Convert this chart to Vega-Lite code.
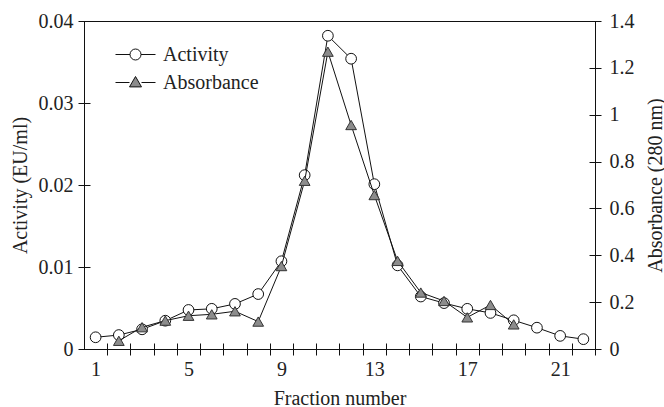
{
  "$schema": "https://vega.github.io/schema/vega-lite/v6.json",
  "width": 511,
  "height": 328,
  "autosize": {"type": "none"},
  "padding": {"left": 84, "top": 21, "right": 69, "bottom": 58},
  "background": "white",
  "config": {
    "font": "Liberation Serif",
    "view": {"stroke": "#111", "strokeWidth": 1},
    "axis": {
      "labelFont": "Liberation Serif",
      "titleFont": "Liberation Serif",
      "labelFontSize": 20,
      "titleFontSize": 20,
      "titleFontWeight": "normal",
      "labelColor": "#222",
      "titleColor": "#222",
      "tickColor": "#111",
      "grid": false,
      "domain": false,
      "offset": -6,
      "tickSize": 12
    },
    "legend": {
      "labelFont": "Liberation Serif",
      "labelFontSize": 20,
      "labelColor": "#222"
    }
  },
  "data": {
    "values": [
      {"fraction": 1, "series": "Activity", "value": 0.00143},
      {"fraction": 2, "series": "Activity", "value": 0.0017},
      {"fraction": 3, "series": "Activity", "value": 0.0024},
      {"fraction": 4, "series": "Activity", "value": 0.00345},
      {"fraction": 5, "series": "Activity", "value": 0.00476},
      {"fraction": 6, "series": "Activity", "value": 0.0049},
      {"fraction": 7, "series": "Activity", "value": 0.0055},
      {"fraction": 8, "series": "Activity", "value": 0.0067},
      {"fraction": 9, "series": "Activity", "value": 0.0107},
      {"fraction": 10, "series": "Activity", "value": 0.0212},
      {"fraction": 11, "series": "Activity", "value": 0.0382},
      {"fraction": 12, "series": "Activity", "value": 0.0354},
      {"fraction": 13, "series": "Activity", "value": 0.0201},
      {"fraction": 14, "series": "Activity", "value": 0.0102},
      {"fraction": 15, "series": "Activity", "value": 0.0064},
      {"fraction": 16, "series": "Activity", "value": 0.0056},
      {"fraction": 17, "series": "Activity", "value": 0.0049},
      {"fraction": 18, "series": "Activity", "value": 0.0044},
      {"fraction": 19, "series": "Activity", "value": 0.0035},
      {"fraction": 20, "series": "Activity", "value": 0.0026},
      {"fraction": 21, "series": "Activity", "value": 0.0016},
      {"fraction": 22, "series": "Activity", "value": 0.0012},
      {"fraction": 2, "series": "Absorbance", "value": 0.035},
      {"fraction": 3, "series": "Absorbance", "value": 0.093},
      {"fraction": 4, "series": "Absorbance", "value": 0.121},
      {"fraction": 5, "series": "Absorbance", "value": 0.142},
      {"fraction": 6, "series": "Absorbance", "value": 0.148},
      {"fraction": 7, "series": "Absorbance", "value": 0.161},
      {"fraction": 8, "series": "Absorbance", "value": 0.117},
      {"fraction": 9, "series": "Absorbance", "value": 0.354},
      {"fraction": 10, "series": "Absorbance", "value": 0.718},
      {"fraction": 11, "series": "Absorbance", "value": 1.269},
      {"fraction": 12, "series": "Absorbance", "value": 0.956},
      {"fraction": 13, "series": "Absorbance", "value": 0.657},
      {"fraction": 14, "series": "Absorbance", "value": 0.376},
      {"fraction": 15, "series": "Absorbance", "value": 0.241},
      {"fraction": 16, "series": "Absorbance", "value": 0.205},
      {"fraction": 17, "series": "Absorbance", "value": 0.135},
      {"fraction": 18, "series": "Absorbance", "value": 0.188},
      {"fraction": 19, "series": "Absorbance", "value": 0.105}
    ]
  },
  "encoding": {
    "x": {
      "field": "fraction",
      "type": "quantitative",
      "scale": {"domain": [0.5, 22.5], "nice": false, "zero": false},
      "axis": {
        "title": "Fraction number",
        "values": [1,2,3,4,5,6,7,8,9,10,11,12,13,14,15,16,17,18,19,20,21,22],
        "labelExpr": "(datum.value - 1) % 4 == 0 ? datum.label : ''",
        "tickOffset": 11.61,
        "labelOffset": -11.61,
        "labelPadding": 4,
        "titlePadding": 9
      }
    }
  },
  "layer": [
    {
      "transform": [{"filter": "datum.series === 'Activity'"}],
      "encoding": {
        "y": {
          "field": "value",
          "type": "quantitative",
          "scale": {"domain": [0, 0.04], "nice": false, "zero": true},
          "axis": {
            "orient": "left",
            "title": "Activity (EU/ml)",
            "values": [0, 0.01, 0.02, 0.03, 0.04],
            "format": ".2~f",
            "labelPadding": 5,
            "titlePadding": 8
          }
        }
      },
      "layer": [
        {"mark": {"type": "line", "color": "#111", "strokeWidth": 1}, "encoding": {}},
        {
          "mark": {"type": "point", "shape": "circle", "filled": true, "fill": "white", "stroke": "#111", "strokeWidth": 1, "size": 115, "opacity": 1},
          "encoding": {}
        },
        {
          "transform": [{"filter": "false"}],
          "mark": {"type": "point", "filled": true, "strokeWidth": 1, "size": 400, "opacity": 1},
          "encoding": {
            "shape": {
              "field": "series",
              "type": "nominal",
              "scale": {
                "domain": ["Activity", "Absorbance"],
                "range": [
                  "M-2,0L-0.55,0M0.55,0L2,0M-0.55,0A0.55,0.55 0 1,1 0.55,0A0.55,0.55 0 1,1 -0.55,0Z",
                  "M-2,0L-0.6,0M0.6,0L2,0M0,-0.6L0.6,0.44L-0.6,0.44Z"
                ]
              },
              "legend": {
                "title": null,
                "orient": "none",
                "legendX": 41,
                "legendY": 23,
                "padding": 0,
                "symbolSize": 400,
                "symbolStrokeWidth": 1,
                "labelOffset": 17,
                "rowPadding": 7
              }
            },
            "fill": {
              "field": "series",
              "type": "nominal",
              "scale": {"domain": ["Activity", "Absorbance"], "range": ["white", "#8c8c8c"]},
              "legend": null
            },
            "stroke": {
              "field": "series",
              "type": "nominal",
              "scale": {"domain": ["Activity", "Absorbance"], "range": ["#111", "#111"]},
              "legend": null
            }
          }
        }
      ]
    },
    {
      "transform": [{"filter": "datum.series === 'Absorbance'"}],
      "encoding": {
        "y": {
          "field": "value",
          "type": "quantitative",
          "scale": {"domain": [0, 1.4], "nice": false, "zero": true},
          "axis": {
            "orient": "right",
            "title": "Absorbance (280 nm)",
            "titleAngle": -90,
            "titleBaseline": "top",
            "values": [0, 0.2, 0.4, 0.6, 0.8, 1, 1.2, 1.4],
            "format": ".1~f",
            "labelPadding": 8,
            "titlePadding": 11
          }
        }
      },
      "layer": [
        {"mark": {"type": "line", "color": "#111", "strokeWidth": 1}, "encoding": {}},
        {
          "mark": {"type": "point", "shape": "triangle-up", "filled": true, "fill": "#8c8c8c", "stroke": "#333", "strokeWidth": 1, "size": 115, "opacity": 1},
          "encoding": {}
        }
      ]
    }
  ],
  "resolve": {"scale": {"y": "independent"}}
}
